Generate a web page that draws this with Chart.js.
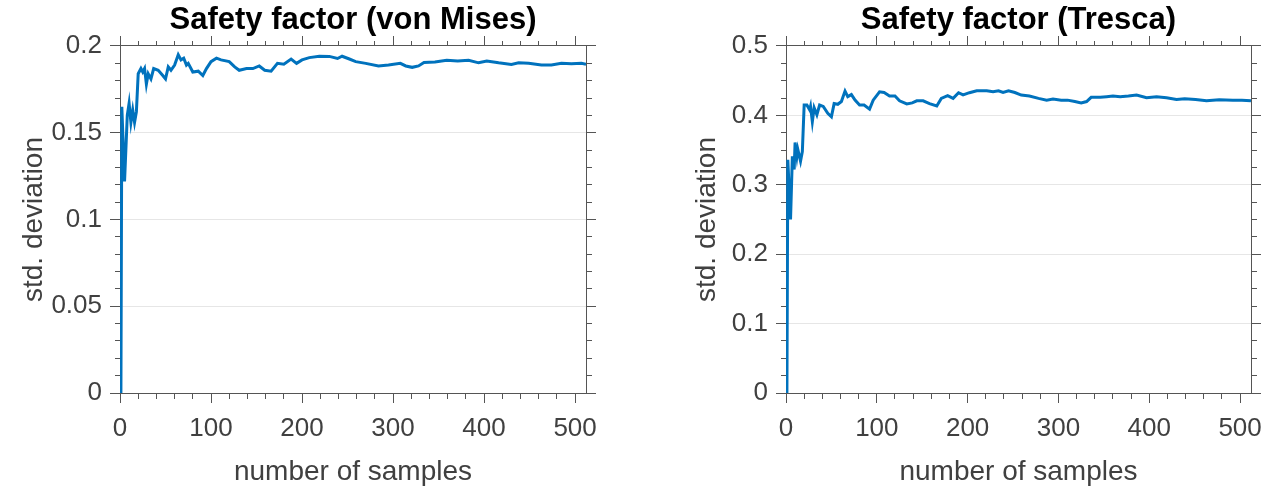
<!DOCTYPE html>
<html>
<head>
<meta charset="utf-8">
<script src="https://cdn.jsdelivr.net/npm/chart.js@4"></script>
<style>
  html, body { margin: 0; padding: 0; background: #fff; overflow: hidden; }
  #wrap { position: relative; width: 1278px; height: 492px; overflow: hidden; }
  .box { position: absolute; top: 0; height: 492px; }
</style>
</head>
<body>
<div id="wrap">
  <!-- canvases are widened so that each title sits centred over its plot area -->
  <div class="box" style="left:0;width:706px"><canvas id="cVon"></canvas></div>
  <div class="box" style="left:640px;width:757px"><canvas id="cTresca"></canvas></div>
</div>
<script>
// sample counts (x) and running std. deviation
const vonX = [1, 2, 5, 8, 10, 12, 14, 16, 18, 20, 23, 25, 27, 29, 31, 34, 37, 42, 47, 50,
  53, 56, 60, 64, 67, 70, 73, 75, 80, 86, 91, 95, 100, 106, 111, 120, 126, 131, 139, 146,
  153, 159, 166, 173, 180, 188, 194, 200, 208, 219, 230, 239, 244, 252, 259, 270, 284, 295,
  308, 314, 321, 328, 334, 346, 359, 371, 383, 394, 403, 416, 430, 438, 449, 463, 474, 485,
  496, 507, 512];
const vonY = [0, 0.165, 0.122, 0.160, 0.167, 0.156, 0.163, 0.156, 0.162, 0.184, 0.187, 0.185,
  0.187, 0.178, 0.184, 0.181, 0.187, 0.186, 0.183, 0.181, 0.188, 0.186, 0.189, 0.195, 0.192,
  0.193, 0.189, 0.190, 0.185, 0.1855, 0.183, 0.187, 0.191, 0.193, 0.192, 0.191, 0.188, 0.186,
  0.187, 0.187, 0.1885, 0.186, 0.1855, 0.190, 0.1895, 0.1925, 0.190, 0.192, 0.1933, 0.1941,
  0.194, 0.1928, 0.1941, 0.1925, 0.191, 0.190, 0.1885, 0.189, 0.190, 0.1885, 0.1877, 0.1885,
  0.1905, 0.1908, 0.1918, 0.1913, 0.1918, 0.1903, 0.1914, 0.1903, 0.1893, 0.1903, 0.190,
  0.189, 0.189, 0.190, 0.1898, 0.190, 0.1895];

const trescaX = [1, 2, 5, 7, 9, 10, 12, 13, 16, 18, 20, 23, 26, 27, 29, 31, 34, 37, 41, 46,
  50, 53, 57, 61, 65, 68, 72, 76, 81, 86, 92, 96, 103, 108, 114, 120, 125, 133, 139, 144,
  151, 158, 166, 171, 178, 184, 190, 195, 202, 210, 221, 228, 234, 239, 245, 252, 259, 268,
  278, 287, 294, 303, 310, 318, 325, 331, 336, 346, 353, 360, 368, 377, 386, 397, 408, 419,
  430, 439, 451, 463, 477, 492, 502, 512];
const trescaY = [0, 0.336, 0.250, 0.341, 0.322, 0.361, 0.341, 0.351, 0.334, 0.348, 0.415,
  0.415, 0.408, 0.413, 0.391, 0.411, 0.401, 0.415, 0.413, 0.403, 0.398, 0.417, 0.416, 0.420,
  0.435, 0.427, 0.430, 0.422, 0.415, 0.415, 0.409, 0.422, 0.434, 0.433, 0.428, 0.428, 0.421,
  0.4165, 0.418, 0.421, 0.421, 0.417, 0.4136, 0.4245, 0.4284, 0.4245, 0.4327, 0.4295, 0.4327,
  0.4355, 0.4355, 0.434, 0.4355, 0.433, 0.4355, 0.433, 0.4293, 0.428, 0.4245, 0.422, 0.4235,
  0.422, 0.422, 0.420, 0.418, 0.420, 0.426, 0.426, 0.427, 0.428, 0.427, 0.428, 0.4293, 0.4255,
  0.427, 0.4255, 0.423, 0.424, 0.423, 0.421, 0.4225, 0.422, 0.422, 0.421];

// axis ticks
const xMajor = [0, 100, 200, 300, 400, 500];
const xMajorLabels = ['0', '100', '200', '300', '400', '500'];
const vonYMajor = [0, 0.05, 0.1, 0.15, 0.2];
const vonYLabels = ['0', '0.05', '0.1', '0.15', '0.2'];
const trescaYMajor = [0, 0.1, 0.2, 0.3, 0.4, 0.5];
const trescaYLabels = ['0', '0.1', '0.2', '0.3', '0.4', '0.5'];

const FONT = "'Liberation Sans', Arial, sans-serif";
const AXIS = '#555555';
const TEXT = '#404040';
const LINE = '#0072BD';

function majorIndex(v, majors){
  return majors.findIndex(m => Math.abs(m - v) < 1e-9);
}

// one side of the box: major ticks long, minor ticks drawn half length via dash
function sideAxis(opt){
  const {position, min, max, step, majors, labels, showLabels, grid, size, dashOuterFirst} = opt;
  const isMinor = v => {
    const k = (v - min) / step;
    return Math.abs(k - Math.round(k)) < 1e-6;
  };
  return {
    type: 'linear', position, min, max,
    afterFit: s => {
      if (position === 'left' || position === 'right') s.width = size; else s.height = size;
    },
    border: { color: AXIS, width: 1 },
    grid: {
      drawOnChartArea: !!grid,
      drawTicks: true,
      tickLength: 10,
      tickWidth: 1,
      color: c => {
        const i = majorIndex(c.tick.value, majors);
        return (grid && i > 0 && i < majors.length - 1) ? '#e6e6e6' : 'rgba(0,0,0,0)';
      },
      tickColor: c => isMinor(c.tick.value) ? AXIS : 'rgba(0,0,0,0)',
      tickBorderDash: c => majorIndex(c.tick.value, majors) >= 0 ? [] : (dashOuterFirst ? [5, 5] : [5, 20]),
      tickBorderDashOffset: c => majorIndex(c.tick.value, majors) >= 0 ? 0 : (dashOuterFirst ? 5 : 0)
    },
    ticks: {
      display: showLabels,
      stepSize: step,
      includeBounds: false,
      autoSkip: false,
      maxRotation: 0,
      padding: opt.padding || 6,
      color: TEXT,
      font: { family: FONT, size: 26 },
      callback: v => {
        const i = majorIndex(v, majors);
        return i >= 0 ? labels[i] : '';
      }
    },
    title: opt.title ? {
      display: true, text: opt.title, color: TEXT,
      font: { family: FONT, size: 28 },
      padding: opt.titlePad
    } : { display: false }
  };
}

function makeChart(id, title, xs, ys, yMax, yStep, yMajors, yLabels, area){
  new Chart(document.getElementById(id), {
    type: 'line',
    data: {
      datasets: [{
        data: xs.map((x, i) => ({ x, y: ys[i] })),
        borderColor: LINE,
        borderWidth: 3,
        pointRadius: 0,
        tension: 0,
        fill: false
      }]
    },
    options: {
      responsive: true,
      maintainAspectRatio: false,
      animation: false,
      layout: { padding: 0 },
      plugins: {
        legend: { display: false },
        tooltip: { enabled: false },
        title: {
          display: true, text: title, color: '#000',
          font: { family: FONT, size: 31, weight: 'bold', lineHeight: 1.2 },
          padding: { top: 2, bottom: 0 }
        }
      },
      scales: {
        x: sideAxis({ position: 'bottom', min: 0, max: 512, step: 20, majors: xMajor, labels: xMajorLabels,
          showLabels: true, size: area.bottomH, dashOuterFirst: false, padding: 10,
          title: 'number of samples', titlePad: { top: 0, bottom: 3 } }),
        x2: sideAxis({ position: 'top', min: 0, max: 512, step: 20, majors: xMajor, labels: xMajorLabels,
          showLabels: false, size: area.topH, dashOuterFirst: true }),
        y: sideAxis({ position: 'left', min: 0, max: yMax, step: yStep, majors: yMajors, labels: yLabels,
          showLabels: true, grid: true, size: area.leftW, dashOuterFirst: true, padding: 8,
          title: 'std. deviation', titlePad: { top: area.titleLeft, bottom: 0 } }),
        y2: sideAxis({ position: 'right', min: 0, max: yMax, step: yStep, majors: yMajors, labels: yLabels,
          showLabels: false, size: area.rightW, dashOuterFirst: false })
      }
    }
  });
}

makeChart('cVon', 'Safety factor (von Mises)', vonX, vonY, 0.2, 0.01, vonYMajor, vonYLabels,
  { leftW: 120, rightW: 120, topH: 6.8, bottomH: 99, titleLeft: 17 });
makeChart('cTresca', 'Safety factor (Tresca)', trescaX, trescaY, 0.5, 0.025, trescaYMajor, trescaYLabels,
  { leftW: 146, rightW: 146, topH: 6.8, bottomH: 99, titleLeft: 50 });
</script>
</body>
</html>
